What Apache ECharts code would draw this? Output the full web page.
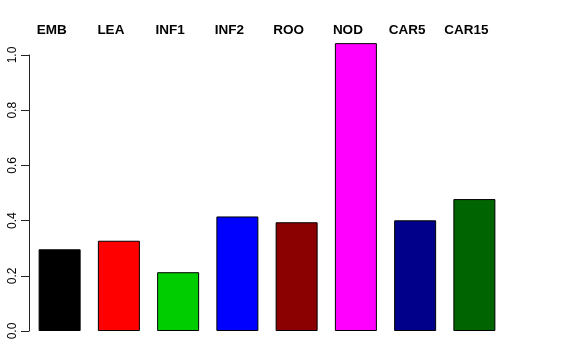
<!DOCTYPE html>
<html><head><meta charset="utf-8">
<script src="https://cdn.jsdelivr.net/npm/echarts@6/dist/echarts.min.js"></script>
<style>html,body{margin:0;padding:0;background:#fff}#c{width:576px;height:360px}</style>
</head><body><div id="c"></div>
<script>
var categories = ["EMB","LEA","INF1","INF2","ROO","NOD","CAR5","CAR15"];
var values = [0.296, 0.327, 0.213, 0.415, 0.394, 1.043, 0.401, 0.478];
var colors = ["#000000","#FF0000","#00CD00","#0000FF","#8B0000","#FF00FF","#00008B","#006400"];
var yTicks = [0, 0.2, 0.4, 0.6, 0.8, 1.0];

var chart = echarts.init(document.getElementById('c'), null, {renderer:'canvas'});
chart.setOption({
  animation:false,
  backgroundColor:'#ffffff',
  grid:{left:30, width:474, top:55, height:276},
  xAxis:{
    type:'category', data:categories, position:'top',
    axisLine:{show:false}, axisTick:{show:false},
    axisLabel:{color:'#000', fontFamily:'Liberation Sans', fontWeight:'bold', fontSize:13.5, margin:18,
      padding:[0,16,0,0]}
  },
  yAxis:{
    type:'value', min:0, max:1.0, interval:0.2, offset:1,
    axisLine:{show:true, lineStyle:{color:'#222', width:1}},
    axisTick:{show:true, length:8, lineStyle:{color:'#222'}},
    splitLine:{show:false},
    axisLabel:{color:'#000', fontFamily:'Liberation Sans', fontSize:12, rotate:90, margin:10,
      formatter:function(v){return v.toFixed(1);}}
  },
  series:[{
    type:'bar', clip:false, barWidth:42,
    data:values.map(function(v,i){return {value:v, itemStyle:{color:colors[i]}};}),
    itemStyle:{borderColor:'#000', borderWidth:1}
  }]
});
</script></body></html>
